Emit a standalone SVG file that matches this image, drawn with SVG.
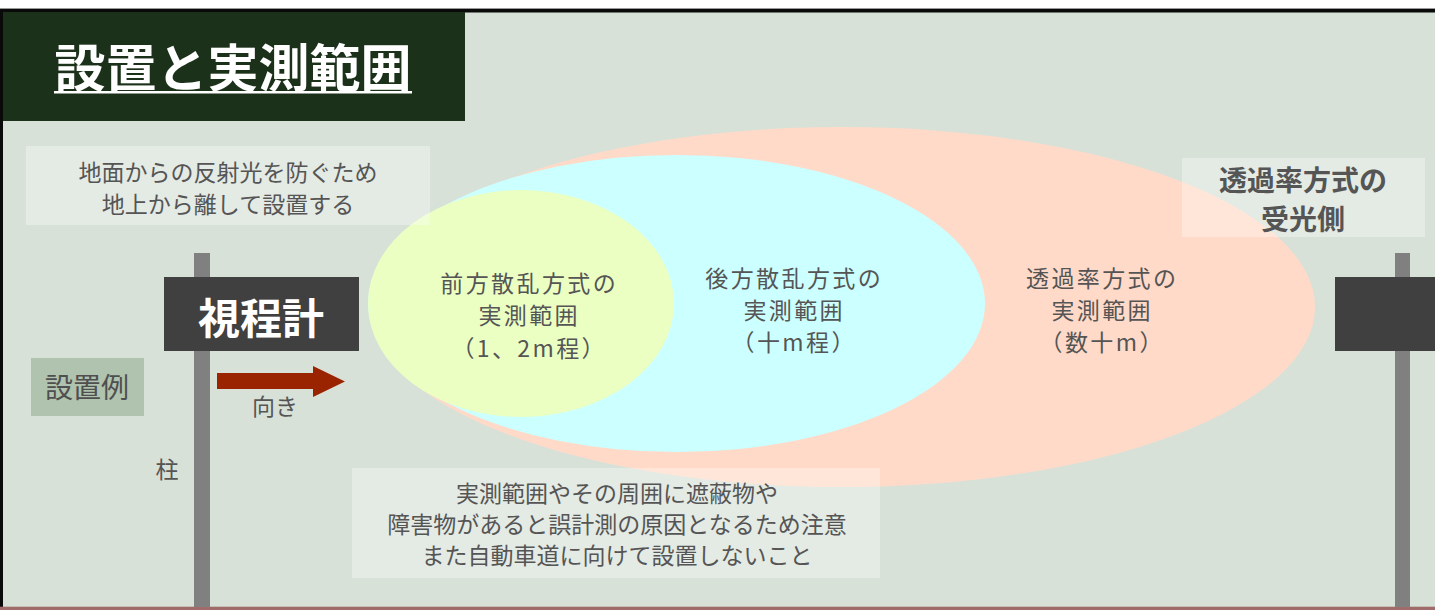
<svg xmlns="http://www.w3.org/2000/svg" width="1435" height="610" viewBox="0 0 1435 610">
<style>
.t{font-family:"Noto Sans CJK JP","Noto Sans",sans-serif;fill:#555555;text-anchor:middle;dominant-baseline:central}
.s23{font-size:23px}
.lab{font-size:23px;letter-spacing:2.4px}
.b{font-weight:bold}
.box{fill:#ffffff;fill-opacity:0.32}
.pole{fill:#808080}
.dev{fill:#404040}
</style>
<rect x="0" y="0" width="1435" height="610" fill="#ffffff"/>
<rect x="0" y="9" width="1435" height="601" fill="#D8E1D8"/>
<rect x="0" y="8" width="1435" height="1" fill="#9a9a9a"/>
<rect x="0" y="9" width="1435" height="3.5" fill="#0a0a0a"/>
<rect x="0" y="9" width="3" height="601" fill="#0a0a0a"/>
<rect x="0" y="606.7" width="1435" height="3.3" fill="#A06B6B"/>

<g id="title">
<rect x="3" y="12" width="462" height="109" fill="#1C311A"/>
<text x="233" y="65" class="t b" style="font-size:51px;fill:#ffffff">設置と実測範囲</text>
<rect x="54" y="91" width="358" height="2.5" fill="#ffffff"/>
</g>

<g id="range-transmission">
<ellipse cx="842" cy="307" rx="473" ry="180" fill="#FFDAC8"/>
</g>
<g id="range-backscatter">
<ellipse cx="676.5" cy="303.5" rx="308.5" ry="148.5" fill="#CCFFFF"/>
</g>
<g id="range-forward">
<ellipse cx="521" cy="303.5" rx="153" ry="113.5" fill="#EBFFC3"/>
</g>

<g id="label-forward">
<text class="t lab" x="529.2" y="282">前方散乱方式の</text>
<text class="t lab" x="529.2" y="314">実測範囲</text>
<text class="t lab" x="529.2" y="347">（1、2m程）</text>
</g>
<g id="label-backscatter">
<text class="t lab" x="794.2" y="277">後方散乱方式の</text>
<text class="t lab" x="794.2" y="309">実測範囲</text>
<text class="t lab" x="794.2" y="341">（十m程）</text>
</g>
<g id="label-transmission">
<text class="t lab" x="1102.2" y="277">透過率方式の</text>
<text class="t lab" x="1102.2" y="309">実測範囲</text>
<text class="t lab" x="1102.2" y="341">（数十m）</text>
</g>

<g id="note-height">
<rect class="box" x="26" y="146" width="404" height="79"/>
<text class="t s23" x="228" y="171">地面からの反射光を防ぐため</text>
<text class="t s23" x="228" y="203">地上から離して設置する</text>
</g>

<g id="note-receiver">
<rect class="box" x="1182" y="158" width="243" height="79"/>
<text class="t b" style="font-size:28px" x="1303" y="179">透過率方式の</text>
<text class="t b" style="font-size:28px" x="1303" y="218">受光側</text>
</g>

<g id="note-obstacles">
<rect class="box" x="352" y="468" width="528" height="110"/>
<text class="t s23" x="617" y="492">実測範囲やその周囲に遮蔽物や</text>
<text class="t s23" x="617" y="523">障害物があると誤計測の原因となるため注意</text>
<text class="t s23" x="617" y="554">また自動車道に向けて設置しないこと</text>
</g>

<g id="example-tag">
<rect x="31" y="358" width="113" height="58" fill="#AFC3AE"/>
<text class="t" style="font-size:28px;fill:#4f4f4f" x="87" y="386">設置例</text>
</g>

<g id="visibility-meter">
<rect class="pole" x="194" y="253" width="16" height="354"/>
<rect class="dev" x="164" y="277" width="195" height="74"/>
<text class="t b" style="font-size:42px;fill:#ffffff" x="261" y="315">視程計</text>
<text class="t s23" x="167" y="468">柱</text>
</g>

<g id="receiver">
<rect class="pole" x="1395" y="253" width="15" height="354"/>
<rect class="dev" x="1335" y="277" width="100" height="74"/>
</g>

<g id="connectors">
<polygon points="217,373 313,373 313,366 345,381.5 313,397 313,389 217,389" fill="#9A2400"/>
<text class="t s23" x="275" y="405">向き</text>
</g>
</svg>
